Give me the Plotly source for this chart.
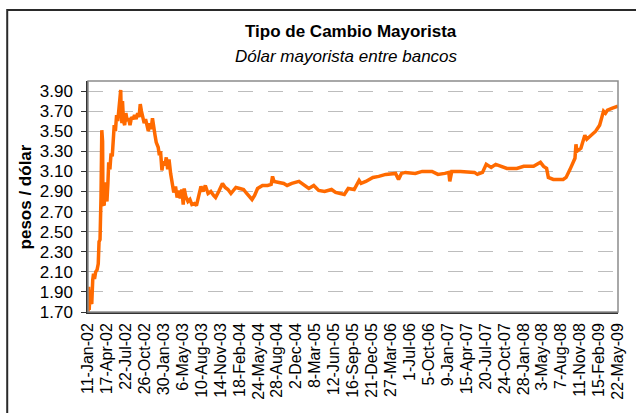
import plotly.graph_objects as go

# ---- data ----
dates = [
    "2002-01-11", "2002-01-14", "2002-01-17", "2002-01-22", "2002-01-25", "2002-01-30",
    "2002-02-04", "2002-02-08", "2002-02-13", "2002-02-19", "2002-02-26", "2002-03-04",
    "2002-03-08", "2002-03-13", "2002-03-18", "2002-03-22", "2002-03-26", "2002-03-28",
    "2002-04-03", "2002-04-08", "2002-04-12", "2002-04-17", "2002-04-22", "2002-04-26",
    "2002-05-02", "2002-05-08", "2002-05-14", "2002-05-20", "2002-05-24", "2002-05-30",
    "2002-06-05", "2002-06-11", "2002-06-17", "2002-06-21", "2002-06-26", "2002-06-28",
    "2002-07-02", "2002-07-05", "2002-07-10", "2002-07-16", "2002-07-22", "2002-07-29",
    "2002-08-05", "2002-08-12", "2002-08-20", "2002-08-28", "2002-09-04", "2002-09-12",
    "2002-09-20", "2002-09-27", "2002-10-03", "2002-10-09", "2002-10-16", "2002-10-23",
    "2002-10-30", "2002-11-06", "2002-11-13", "2002-11-20", "2002-11-27", "2002-12-04",
    "2002-12-10", "2002-12-17", "2002-12-23", "2003-01-02", "2003-01-08", "2003-01-14",
    "2003-01-21", "2003-01-28", "2003-02-05", "2003-02-12", "2003-02-19", "2003-02-26",
    "2003-03-06", "2003-03-14", "2003-03-22", "2003-03-31", "2003-04-08", "2003-04-16",
    "2003-04-24", "2003-05-02", "2003-05-09", "2003-05-14", "2003-05-22", "2003-06-02",
    "2003-06-12", "2003-06-22", "2003-07-05", "2003-07-15", "2003-07-28", "2003-08-07",
    "2003-08-18", "2003-08-29", "2003-09-12", "2003-09-26", "2003-10-10", "2003-10-20",
    "2003-11-05", "2003-11-24", "2003-12-08", "2003-12-22", "2004-01-06", "2004-01-31",
    "2004-02-20", "2004-03-10", "2004-03-26", "2004-04-12", "2004-04-22", "2004-05-05",
    "2004-05-20", "2004-06-14", "2004-07-10", "2004-07-28", "2004-08-04", "2004-08-12",
    "2004-09-07", "2004-09-30", "2004-10-17", "2004-11-10", "2004-12-16", "2005-01-10",
    "2005-02-04", "2005-03-01", "2005-03-26", "2005-04-25", "2005-05-30", "2005-06-20",
    "2005-07-10", "2005-08-03", "2005-08-23", "2005-09-22", "2005-10-17", "2005-10-27",
    "2005-11-20", "2005-12-26", "2006-01-25", "2006-03-01", "2006-04-20", "2006-05-05",
    "2006-05-20", "2006-06-09", "2006-07-29", "2006-09-02", "2006-10-22", "2006-11-21",
    "2006-12-26", "2007-01-15", "2007-01-20", "2007-01-30", "2007-03-15", "2007-05-25",
    "2007-06-09", "2007-07-05", "2007-07-24", "2007-08-18", "2007-09-10", "2007-10-07",
    "2007-11-06", "2007-12-26", "2008-01-30", "2008-03-20", "2008-04-24", "2008-05-10",
    "2008-05-25", "2008-06-03", "2008-06-28", "2008-08-17", "2008-09-01", "2008-09-21",
    "2008-10-16", "2008-10-21", "2008-10-26", "2008-11-15", "2008-12-05", "2008-12-15",
    "2009-01-04", "2009-01-29", "2009-02-18", "2009-03-05", "2009-03-10", "2009-03-20",
    "2009-03-30", "2009-04-24", "2009-05-22",
]
rates = [
    1.70, 1.95, 1.72, 1.92, 1.80, 1.78,
    2.02, 2.08, 2.03, 2.10, 2.12, 2.18,
    2.40, 2.42, 2.85, 3.51, 3.40, 2.78,
    2.76, 2.99, 2.85, 2.80, 2.98, 3.19,
    3.12, 3.28, 3.25, 3.48, 3.56, 3.50,
    3.66, 3.60, 3.72, 3.80, 3.91, 3.72,
    3.58, 3.80, 3.60, 3.56, 3.68, 3.60,
    3.63, 3.56, 3.64, 3.62, 3.66, 3.62,
    3.68, 3.64, 3.77, 3.70, 3.64, 3.58,
    3.62, 3.55, 3.50, 3.58, 3.52, 3.63,
    3.52, 3.46, 3.39, 3.34, 3.26, 3.30,
    3.11, 3.20, 3.16, 3.24, 3.12, 3.22,
    3.08, 2.97, 2.89, 2.95, 2.84, 2.91,
    2.83, 2.92, 2.77, 2.93, 2.85, 2.80,
    2.82, 2.77, 2.78, 2.76, 2.85, 2.95,
    2.90, 2.96, 2.88, 2.90, 2.86, 2.84,
    2.90, 2.98, 2.94, 2.92, 2.88, 2.94,
    2.93, 2.92, 2.88, 2.84, 2.82, 2.86,
    2.93, 2.96, 2.96, 2.97, 3.05, 3.00,
    2.99, 2.98, 2.96, 2.98, 3.00, 2.96,
    2.93, 2.96, 2.91, 2.90, 2.92, 2.89,
    2.88, 2.87, 2.93, 2.92, 3.01, 2.98,
    3.00, 3.04, 3.05, 3.07, 3.08, 3.02,
    3.08, 3.09, 3.08, 3.10, 3.10, 3.07,
    3.08, 3.09, 3.00, 3.10, 3.10, 3.09,
    3.07, 3.09, 3.17, 3.14, 3.17, 3.15,
    3.13, 3.13, 3.15, 3.15, 3.19, 3.15,
    3.13, 3.04, 3.02, 3.02, 3.04, 3.12,
    3.23, 3.37, 3.30, 3.33, 3.46, 3.42,
    3.46, 3.50, 3.56, 3.68, 3.70, 3.68,
    3.71, 3.73, 3.75,
]

tick_dates = [
    "2002-01-11", "2002-04-17", "2002-07-22", "2002-10-26", "2003-01-30", "2003-05-06",
    "2003-08-10", "2003-11-14", "2004-02-18", "2004-05-24", "2004-08-28", "2004-12-02",
    "2005-03-08", "2005-06-12", "2005-09-16", "2005-12-21", "2006-03-27", "2006-07-01",
    "2006-10-05", "2007-01-09", "2007-04-15", "2007-07-20", "2007-10-24", "2008-01-28",
    "2008-05-03", "2008-08-07", "2008-11-11", "2009-02-15", "2009-05-22",
]
tick_labels = [
    "11-Jan-02", "17-Apr-02", "22-Jul-02", "26-Oct-02", "30-Jan-03", "6-May-03",
    "10-Aug-03", "14-Nov-03", "18-Feb-04", "24-May-04", "28-Aug-04", "2-Dec-04",
    "8-Mar-05", "12-Jun-05", "16-Sep-05", "21-Dec-05", "27-Mar-06", "1-Jul-06",
    "5-Oct-06", "9-Jan-07", "15-Apr-07", "20-Jul-07", "24-Oct-07", "28-Jan-08",
    "3-May-08", "7-Aug-08", "11-Nov-08", "15-Feb-09", "22-May-09",
]
y_ticks = [1.70, 1.90, 2.10, 2.30, 2.50, 2.70, 2.90, 3.10, 3.30, 3.50, 3.70, 3.90]
y_labels = ["1.70", "1.90", "2.10", "2.30", "2.50", "2.70", "2.90", "3.10", "3.30", "3.50", "3.70", "3.90"]

title_text = "Tipo de Cambio Mayorista"
subtitle_text = "Dólar mayorista entre bancos"
ytitle_text = "pesos / dólar"

FONT = "Liberation Sans, Arial, sans-serif"

fig = go.Figure()
fig.add_trace(go.Scatter(
    x=dates, y=rates, mode="lines",
    line=dict(color="#FF6A00", width=3.5),
    hoverinfo="x+y", showlegend=False,
))

fig.update_layout(
    width=636, height=413,
    margin=dict(l=88, r=10, t=81, b=101),
    paper_bgcolor="white", plot_bgcolor="white",
    font=dict(family=FONT, color="black"),
    xaxis=dict(
        type="date",
        range=["2002-01-11", "2009-05-22 06:00"],
        tickmode="array", tickvals=tick_dates, ticktext=tick_labels,
        tickangle=-90, tickfont=dict(size=16, family=FONT, color="black"),
        showgrid=False, zeroline=False,
        showline=True, linecolor="#333333", linewidth=1.5,
        ticks="", ticklabelstandoff=3,
    ),
    yaxis=dict(
        range=[1.70, 4.0],
        tickmode="array", tickvals=y_ticks, ticktext=y_labels,
        tickfont=dict(size=17, family=FONT, color="black"),
        showgrid=True, gridcolor="#bdbdbd", gridwidth=1, griddash="longdash",
        zeroline=False,
        showline=True, linecolor="#333333", linewidth=1.5,
        ticks="outside", ticklen=5, tickcolor="#333333",
        ticklabelstandoff=5,
    ),
    shapes=[
        dict(type="rect", xref="paper", yref="paper", x0=0, x1=1, y0=0, y1=1,
             line=dict(color="#8c8c8c", width=1.5)),
        dict(type="rect", xref="paper", yref="paper",
             x0=(6 - 88) / 538, x1=1.08, y0=-0.6, y1=1 + (81 - 10) / 231,
             line=dict(color="#2a2a2a", width=2)),
    ],
    annotations=[
        dict(text="<b>" + title_text + "</b>", xref="paper", yref="paper",
             x=(355 - 88) / 538, y=1 + (81 - 31) / 231, xanchor="center", yanchor="middle",
             showarrow=False, font=dict(size=17, family=FONT, color="black")),
        dict(text="<i>" + subtitle_text + "</i>", xref="paper", yref="paper",
             x=(350 - 88) / 538, y=1 + (81 - 57) / 231, xanchor="center", yanchor="middle",
             showarrow=False, font=dict(size=17, family=FONT, color="black")),
        dict(text="<b>" + ytitle_text + "</b>", xref="paper", yref="paper",
             x=(25 - 88) / 538, y=0.5, xanchor="center", yanchor="middle", textangle=-90,
             showarrow=False, font=dict(size=17, family=FONT, color="black")),
    ],
)

fig.write_html(
    "out.html",
    config={"displayModeBar": False},
    post_script="document.body.style.margin='0';document.body.style.overflow='hidden';",
)
